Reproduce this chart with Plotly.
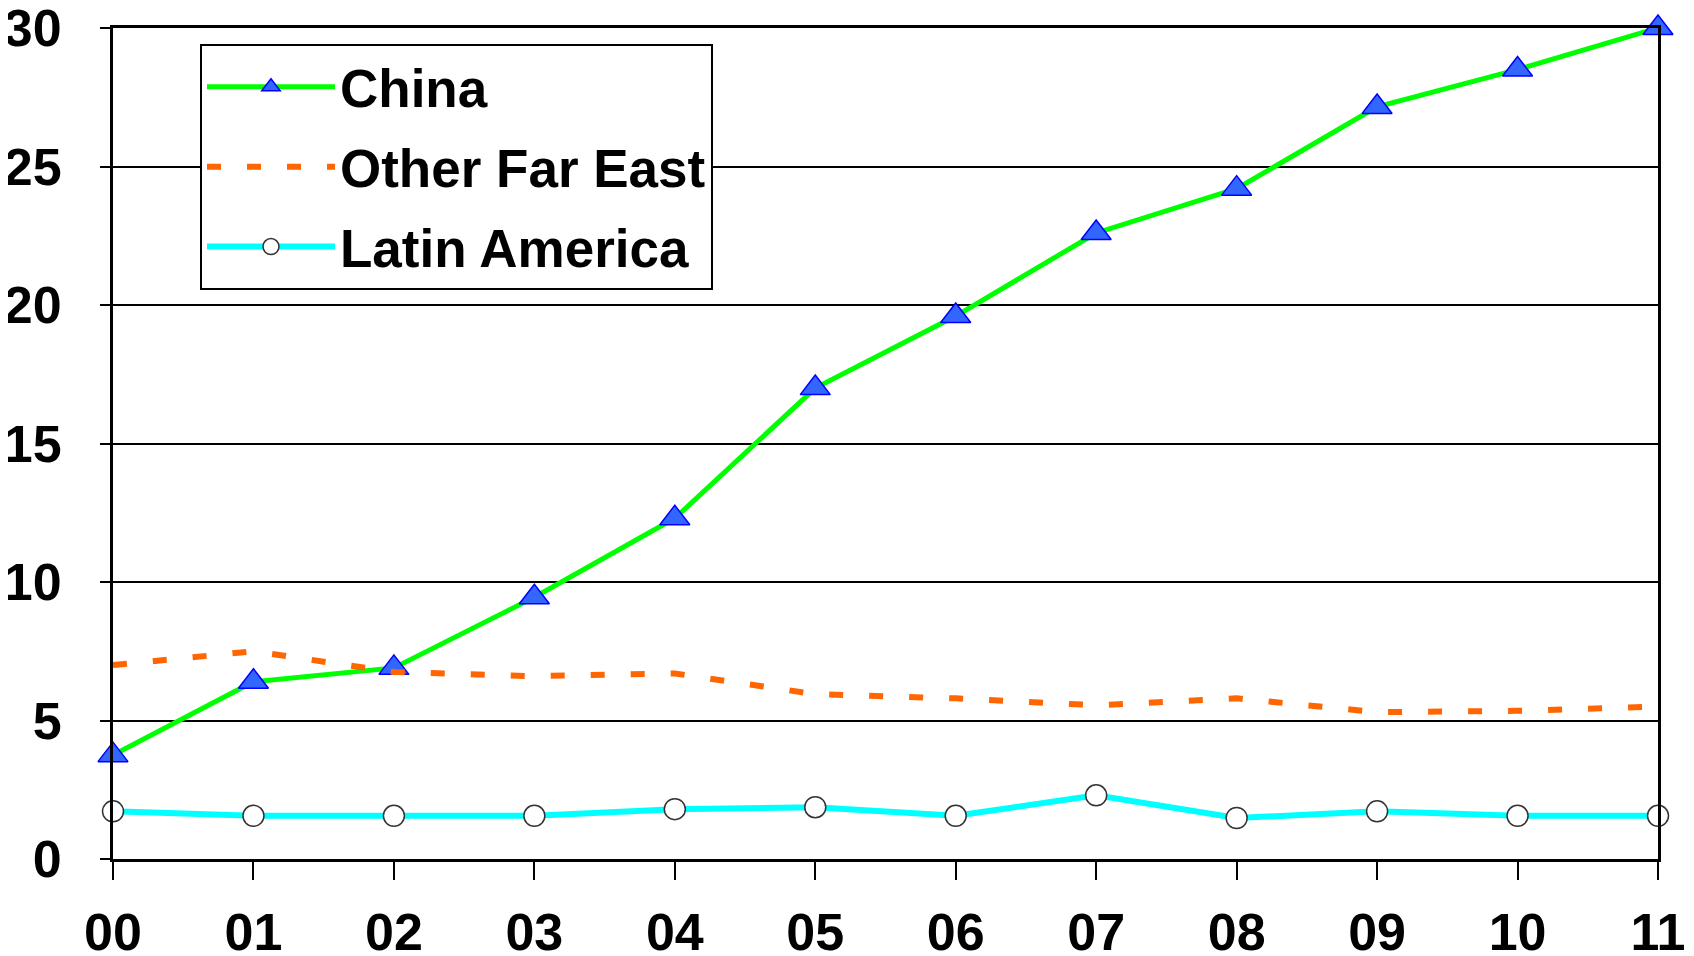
import plotly.graph_objects as go

years = ["00", "01", "02", "03", "04", "05", "06", "07", "08", "09", "10", "11"]
china = [3.75, 6.4, 6.9, 9.45, 12.3, 17.0, 19.6, 22.6, 24.2, 27.15, 28.5, 30.0]
other_far_east = [7.0, 7.5, 6.75, 6.6, 6.7, 5.95, 5.8, 5.55, 5.8, 5.3, 5.35, 5.5]
latin_america = [1.72, 1.56, 1.56, 1.56, 1.8, 1.87, 1.56, 2.3, 1.48, 1.72, 1.56, 1.56]
y_ticks = [0, 5, 10, 15, 20, 25, 30]

FONT = "Liberation Sans, Arial, sans-serif"

fig = go.Figure()
fig.add_trace(go.Scatter(
    x=years, y=china, name="China", mode="lines+markers", legendgroup="a",
    line=dict(color="#00FF00", width=5),
    marker=dict(symbol="triangle-up", size=26, color="#3366FF",
                line=dict(color="#0000FF", width=1.5)),
    cliponaxis=False,
))
fig.add_trace(go.Scatter(
    x=years, y=other_far_east, name="Other Far East", mode="lines", legendgroup="b",
    line=dict(color="#FF6600", width=6, dash="14px,26px"),
    cliponaxis=False,
))
fig.add_trace(go.Scatter(
    x=years, y=latin_america, name="Latin America", mode="lines+markers", legendgroup="c",
    line=dict(color="#00FFFF", width=6),
    marker=dict(symbol="circle", size=21, color="white",
                line=dict(color="#333333", width=1.5)),
    cliponaxis=False,
))

fig.update_layout(
    width=1686, height=948,
    margin=dict(l=105, r=36, t=20, b=97, autoexpand=False),
    paper_bgcolor="white", plot_bgcolor="white",
    font=dict(family=FONT, color="black", size=52, weight="bold"),
    showlegend=True,
    legend=dict(
        x=0.0563, y=0.981, xanchor="left", yanchor="top",
        bgcolor="white", bordercolor="black", borderwidth=2,
        font=dict(family=FONT, size=53, color="black", weight="bold"),
        itemwidth=128, tracegroupgap=8,
    ),
    xaxis=dict(
        type="category", range=[0, 11], automargin=False,
        showline=True, linecolor="black", linewidth=3, mirror=True,
        ticks="outside", ticklen=18, tickwidth=1.5, tickcolor="black",
        ticklabelstandoff=8, ticklabeloverflow="allow",
        showgrid=False, zeroline=False,
        tickfont=dict(family=FONT, size=52, color="black", weight="bold"),
    ),
    yaxis=dict(
        range=[0, 30], tickvals=y_ticks, automargin=False,
        showline=True, linecolor="black", linewidth=3, mirror=True,
        ticks="outside", ticklen=10, tickwidth=1.5, tickcolor="black",
        ticklabelstandoff=28, ticklabeloverflow="allow",
        showgrid=True, gridcolor="black", gridwidth=1.5, zeroline=False,
        tickfont=dict(family=FONT, size=52, color="black", weight="bold"),
    ),
)

fig.write_html("out.html")
